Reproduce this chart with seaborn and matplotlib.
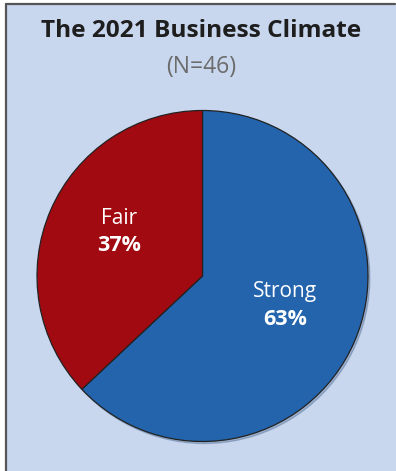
import matplotlib
matplotlib.use("Agg")
import matplotlib.pyplot as plt
import seaborn as sns
from matplotlib.patches import Rectangle
from matplotlib.lines import Line2D

# Data
categories = ["Strong", "Fair"]
values = [63, 37]
title = "The 2021 Business Climate"
subtitle = "(N=46)"

colors = ["#2364ad", "#a10a10"]
bg = "#c8d6ee"

sns.set_theme(style="white")
plt.rcParams["font.family"] = ["Open Sans", "DejaVu Sans"]

fig = plt.figure(figsize=(3.96, 4.71), dpi=100)
fig.patch.set_facecolor("white")

W, H = 396.0, 471.0
# panel background with left/top borders
fig.patches.append(Rectangle((5.5 / W, 0), 1, (H - 3.5) / H, transform=fig.transFigure,
                             facecolor=bg, edgecolor="none", zorder=-5))
fig.lines.append(Line2D([5.5 / W, 5.5 / W], [0, (H - 3.5) / H], transform=fig.transFigure,
                        color="#555555", lw=1.6, zorder=-4))
fig.lines.append(Line2D([5.5 / W, 395 / W], [(H - 3.5) / H, (H - 3.5) / H], transform=fig.transFigure,
                        color="#555555", lw=1.6, zorder=-4))

cx, cy, r = 202.5, 276.0, 165.5
ax = fig.add_axes([(cx - r) / W, (H - cy - r) / H, 2 * r / W, 2 * r / H])
ax.set_zorder(3)
ax.set_facecolor("none")
ax.patch.set_alpha(0)
wedges, texts, autotexts = ax.pie(
    values, colors=colors, startangle=90, counterclock=False,
    autopct="%1.0f%%", pctdistance=0.56,
    wedgeprops=dict(edgecolor="#222222", linewidth=0.9),
    shadow=dict(ox=0.008, oy=-0.009, shade=0.4, alpha=0.25),
)
ax.set_xlim(-1, 1)
ax.set_ylim(-1, 1)
ax.set_aspect("equal")
ax.axis("off")

for cat, at in zip(categories, autotexts):
    x, y = at.get_position()
    y += 0.043
    x -= 0.015 if x > 0 else -0.01
    txt = at.get_text()
    at.set_visible(False)
    ax.text(x, y + 0.085, cat, ha="center", va="center", color="white", fontsize=15)
    ax.text(x, y - 0.082, txt, ha="center", va="center", color="white", fontsize=15.5,
            fontweight="bold")

fig.text(201 / W, 1 - 31 / H, title, ha="center", va="center", fontsize=17.6,
         fontweight="bold", color="#1e1e1e")
fig.text(201 / W, 1 - 67 / H, subtitle, ha="center", va="center", fontsize=16.5,
         color="#6b6b6b")

fig.savefig("out.png", dpi=100, facecolor=fig.get_facecolor())
